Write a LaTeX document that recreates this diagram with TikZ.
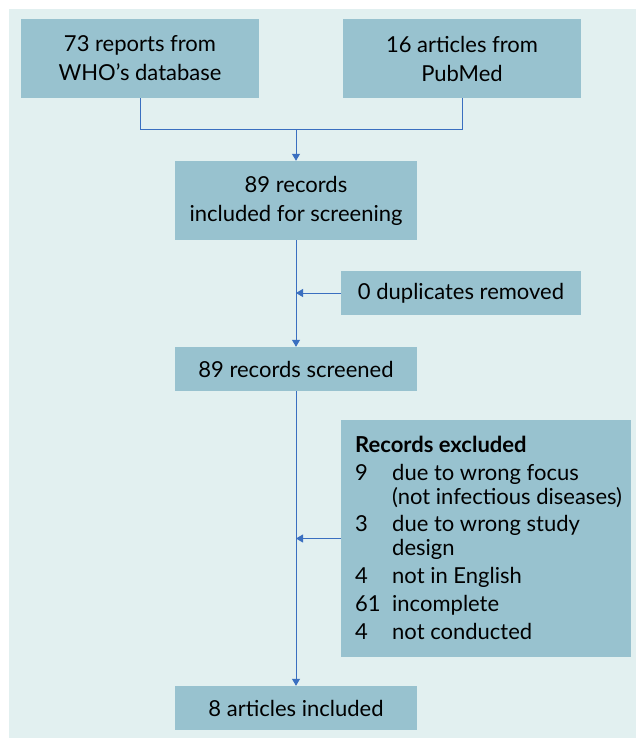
\documentclass[tikz,border=0pt]{standalone}
\usepackage{fontspec}
\setmainfont{Lato}
\usetikzlibrary{arrows.meta}
\definecolor{bgc}{HTML}{E2F0F0}
\definecolor{boxc}{HTML}{98C2CF}
\definecolor{linec}{HTML}{3A6FC0}
\newcommand{\itm}[1]{\makebox[37pt][l]{#1}}
\begin{document}
\begin{tikzpicture}[x=1pt,y=-1pt,
  box/.style={fill=boxc, draw=none, inner sep=0pt, align=center, font=\fontsize{22}{29}\selectfont},
  conn/.style={draw=linec, line width=1pt},
  arr/.style={conn, -{Triangle[width=8pt,length=7pt]}}]
\useasboundingbox (0,0) rectangle (636,738);
\fill[bgc] (9,9) rectangle (636,738);
\node[box, minimum width=238pt, minimum height=79pt] (who) at (140,58.5) {73 reports from\\WHO’s database};
\node[box, minimum width=238pt, minimum height=79pt] (pub) at (462,58.5) {16 articles from\\PubMed};
\node[box, minimum width=242pt, minimum height=79pt] (inc) at (296,200.5) {89 records\\included for screening};
\node[box, minimum width=240pt, minimum height=44pt] (dup) at (461,293) {0 duplicates removed};
\node[box, minimum width=242pt, minimum height=44pt] (scr) at (296,369) {89 records screened};
\node[box, minimum width=290pt, minimum height=237pt] (exc) at (486,538.5) {};
\node[box, minimum width=242pt, minimum height=44pt] (fin) at (296,708) {8 articles included};
\node[fill=none, anchor=north west, inner sep=0pt, align=left, font=\fontsize{22}{24}\selectfont] (exctext) at (355,435.5) {%
\textbf{Records excluded}\\[4pt]
\itm{9}due to wrong focus\\
\itm{}(not infectious diseases)\\[3pt]
\itm{3}due to wrong study\\
\itm{}design\\[4pt]
\itm{4}not in English\\[4pt]
\itm{61}incomplete\\[4pt]
\itm{4}not conducted};
\coordinate (j) at (296,130);
\draw[conn] (who.south) |- (j);
\draw[conn] (pub.south) |- (j);
\draw[arr] (j) -- (inc.north);
\draw[arr] (inc.south) -- (scr.north);
\draw[arr] (dup.west) -- (inc.south |- dup.west);
\draw[arr] (scr.south) -- (fin.north);
\draw[arr] (exc.west) -- (scr.south |- exc.west);
\end{tikzpicture}
\end{document}
